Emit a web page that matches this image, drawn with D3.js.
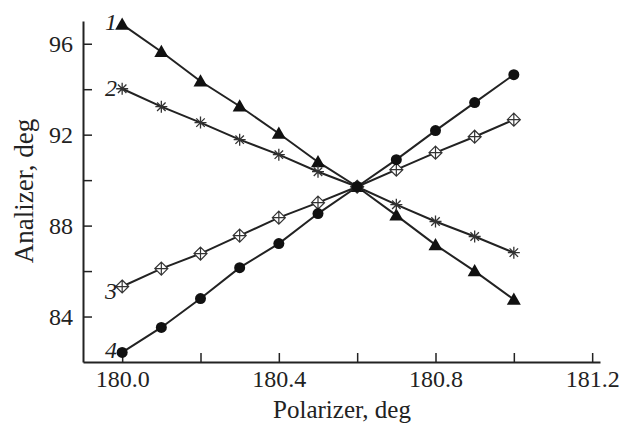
<!DOCTYPE html>
<html>
<head>
<meta charset="utf-8">
<script src="https://cdn.jsdelivr.net/npm/d3@7"></script>
<style>
  body { margin: 0; background: #fff; }
  text { font-family: "Liberation Serif", "Times New Roman", serif; fill: #222; }
</style>
</head>
<body>
<div id="chart"></div>
<script>
// donnees
const polarizer = [180.0, 180.1, 180.2, 180.3, 180.4, 180.5, 180.6, 180.7, 180.8, 180.9, 181.0];
const curve1 = [96.85, 95.65, 94.35, 93.25, 92.05, 90.8, 89.71, 88.45, 87.15, 86.0, 84.75];
const curve2 = [94.02, 93.23, 92.53, 91.78, 91.12, 90.37, 89.71, 88.92, 88.18, 87.52, 86.81];
const curve3 = [85.32, 86.11, 86.77, 87.56, 88.35, 89.01, 89.71, 90.46, 91.21, 91.91, 92.66];
const curve4 = [82.42, 83.52, 84.79, 86.15, 87.21, 88.53, 89.71, 90.9, 92.18, 93.41, 94.64];
const seriesLabels = ["1", "2", "3", "4"];
const xTicks = [180.0, 180.2, 180.4, 180.6, 180.8, 181.0, 181.2];
const yTicks = [84, 86, 88, 90, 92, 94, 96];

const W = 642, H = 428;
const svg = d3.select("#chart").append("svg")
  .attr("width", W).attr("height", H);

// echelles
const x = d3.scaleLinear().domain([179.9, 181.22]).range([83, 600]);
const y = d3.scaleLinear().domain([82, 97]).range([362, 21]);

// axes (ticks vers l'interieur)
const xAxis = d3.axisBottom(x).tickValues(xTicks).tickSizeInner(-9).tickSizeOuter(0).tickPadding(8)
  .tickFormat((d, i) => i % 2 === 0 ? d3.format(".1f")(d) : "");
const yAxis = d3.axisLeft(y).tickValues(yTicks).tickSizeInner(-9).tickSizeOuter(0).tickPadding(10)
  .tickFormat(d => d % 4 === 0 ? d : "");

const gx = svg.append("g").attr("transform", "translate(0,362)").call(xAxis);
const gy = svg.append("g").attr("transform", "translate(83,0)").call(yAxis);
[gx, gy].forEach(g => {
  g.select(".domain").attr("stroke", "#222").attr("stroke-width", 2);
  g.selectAll(".tick line").attr("stroke", "#222").attr("stroke-width", 1.5);
  g.selectAll(".tick text").attr("font-size", 24).attr("font-family", "Liberation Serif").attr("fill", "#222");
});

// titres
svg.append("text").attr("x", 342).attr("y", 418).attr("text-anchor", "middle")
  .attr("font-size", 25).text("Polarizer, deg");
svg.append("text").attr("transform", "translate(33,191) rotate(-90)").attr("text-anchor", "middle")
  .attr("font-size", 27).text("Analizer, deg");

// marqueurs
function triangle(s) { return `M0,${-s}L${s},${s * 0.75}L${-s},${s * 0.75}Z`; }
function star(s) {
  const d = s * 0.7071;
  return `M${-s},0L${s},0M0,${-s}L0,${s}M${-d},${-d}L${d},${d}M${-d},${d}L${d},${-d}`;
}
function diamondCross(s) {
  return `M0,${-s}L${s},0L0,${s}L${-s},0ZM${-s},0L${s},0M0,${-s}L0,${s}`;
}

const series = [
  { values: curve1, label: seriesLabels[0], marker: "tri" },
  { values: curve2, label: seriesLabels[1], marker: "star" },
  { values: curve3, label: seriesLabels[2], marker: "diamond" },
  { values: curve4, label: seriesLabels[3], marker: "circle" }
];

const line = d3.line().x(d => x(d[0])).y(d => y(d[1]));

series.forEach(s => {
  const pts = polarizer.map((p, i) => [p, s.values[i]]);
  svg.append("path").datum(pts).attr("d", line)
    .attr("fill", "none").attr("stroke", "#222").attr("stroke-width", 2);

  const g = svg.append("g").selectAll("g").data(pts).enter().append("g")
    .attr("transform", d => `translate(${x(d[0])},${y(d[1])})`);
  if (s.marker === "tri") {
    g.append("path").attr("d", triangle(7)).attr("fill", "#111");
  } else if (s.marker === "circle") {
    g.append("circle").attr("r", 5.5).attr("fill", "#111");
  } else if (s.marker === "star") {
    g.append("path").attr("d", star(6)).attr("stroke", "#333").attr("stroke-width", 1.3).attr("fill", "none");
  } else {
    g.append("path").attr("d", diamondCross(6.5)).attr("stroke", "#333").attr("stroke-width", 1.2).attr("fill", "#fff");
  }
});

// numeros des courbes
const labelPos = [
  { x: 117, y: 30 }, { x: 117, y: 96 }, { x: 117, y: 299 }, { x: 117, y: 358 }
];
series.forEach((s, i) => {
  svg.append("text").attr("x", labelPos[i].x).attr("y", labelPos[i].y)
    .attr("text-anchor", "end").attr("font-style", "italic").attr("font-size", 24)
    .text(s.label);
});
</script>
</body>
</html>
